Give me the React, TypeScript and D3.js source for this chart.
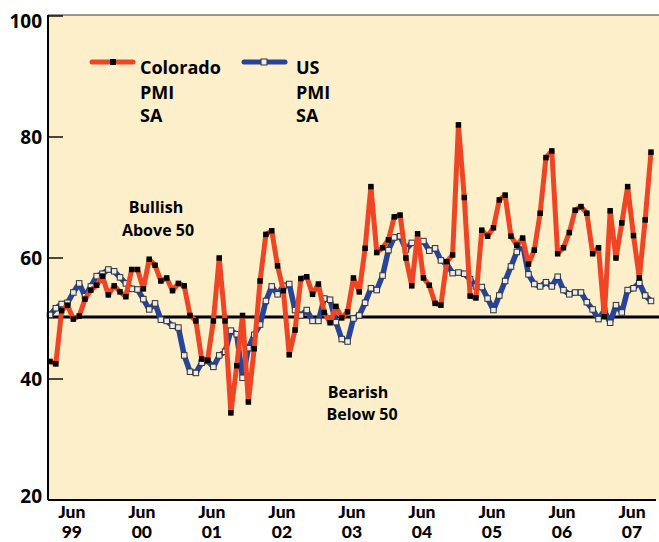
import React from "react";
import * as d3 from "d3";

// Monthly index 0 = Feb 1999 ... 103 = Sep 2007
const coloradoPMI = [
  42.9, 42.5, 51.3, 52.2, 49.9, 50.4, 53.2, 54.7, 55.5, 57.0,
  53.9, 55.4, 54.4, 53.6, 58.1, 58.1, 54.9, 59.8, 58.8, 56.2,
  56.7, 54.6, 55.8, 55.4, 50.5, 49.6, 43.3, 43.1, 49.6, 60.0,
  49.6, 34.4, 42.2, 50.5, 36.2, 45.0, 56.2, 63.9, 64.5, 58.7,
  54.6, 44.0, 48.1, 56.6, 56.9, 54.0, 55.7, 51.0, 49.3, 52.0,
  50.1, 51.1, 56.7, 54.4, 61.6, 71.8, 60.9, 61.7, 63.0, 66.8,
  67.1, 60.0, 55.4, 64.0, 56.7, 55.5, 52.5, 52.2, 59.4, 60.5,
  82.0, 70.0, 53.7, 53.4, 64.6, 63.6, 65.0, 69.6, 70.4, 63.6,
  62.1, 63.3, 59.0, 61.3, 67.4, 76.6, 77.7, 60.7, 61.7, 64.2,
  67.9, 68.5, 67.4, 60.7, 61.7, 50.3, 67.8, 60.0, 65.8, 71.8,
  63.7, 56.7, 66.3, 77.5,
];

const usPMI = [
  50.6, 51.7, 52.4, 52.6, 54.3, 55.8, 53.7, 55.3, 57.0, 57.4,
  58.1, 57.8, 56.8, 55.8, 54.9, 54.8, 53.2, 51.5, 52.5, 49.8,
  49.6, 48.8, 48.5, 43.9, 41.2, 41.0, 42.7, 43.0, 42.0, 43.9,
  44.5, 48.0, 47.4, 40.2, 45.1, 47.3, 49.0, 52.9, 55.3, 54.0,
  55.4, 55.7, 51.4, 50.5, 51.4, 49.6, 49.6, 53.3, 53.1, 49.4,
  46.6, 46.2, 50.0, 50.5, 52.6, 55.0, 54.7, 57.1, 61.3, 63.4,
  63.6, 61.4, 62.5, 62.4, 62.8, 61.2, 61.6, 59.6, 59.0, 57.5,
  57.6, 57.4, 56.5, 55.3, 55.2, 53.3, 51.4, 53.8, 56.2, 58.6,
  61.0, 62.3, 57.3, 55.7, 55.3, 56.0, 55.3, 56.9, 54.7, 54.0,
  54.3, 54.3, 52.7, 51.5, 49.9, 51.3, 49.3, 52.2, 51.0, 54.7,
  55.0, 55.9, 53.8, 52.9,
];

const xTickMonths = [4, 16, 28, 40, 52, 64, 76, 88, 100]; // June of each year
const xTickYears = ["99", "00", "01", "02", "03", "04", "05", "06", "07"];
const yTicks = [20, 40, 60, 80, 100];
const referenceLevel = 50;

const W = 659;
const H = 542;
const FONT = "'Open Sans', 'DejaVu Sans', sans-serif";
const XFONT = "Lato, 'Open Sans', sans-serif";

export default function App() {
  const left = 48;
  const right = 659;
  const top = 16;
  const bottom = 500;

  const x = d3.scaleLinear().domain([0, 103]).range([50, 651]);
  const y = d3.scaleLinear().domain([20, 100]).range([bottom, top]);

  const line = d3
    .line<number>()
    .x((_, i) => x(i))
    .y((d) => y(d));

  const red = "#ee4524";
  const blue = "#25449a";
  const ms = 5.5;

  return (
    <svg
      width={W}
      height={H}
      style={{ position: "absolute", left: 0, top: 0, background: "#fff" }}
      fontFamily={FONT}
    >
      <rect x={left} y={15} width={right - left} height={bottom - 15} fill="#fcefc9" />
      <line x1={left} x2={right} y1={15} y2={15} stroke="#777" strokeWidth={1.6} />

      {/* reference line at 50 */}
      <line
        x1={left}
        x2={right}
        y1={y(referenceLevel) - 1.5}
        y2={y(referenceLevel) - 1.5}
        stroke="#000"
        strokeWidth={2.8}
      />

      {/* US series */}
      <path d={line(usPMI) ?? ""} fill="none" stroke={blue} strokeWidth={5.5} strokeLinejoin="round" />
      {usPMI.map((d, i) => (
        <rect
          key={"u" + i}
          x={x(i) - ms / 2}
          y={y(d) - ms / 2}
          width={ms}
          height={ms}
          fill="#ececec"
          stroke="#333"
          strokeWidth={1}
        />
      ))}

      {/* Colorado series */}
      <path d={line(coloradoPMI) ?? ""} fill="none" stroke={red} strokeWidth={5} strokeLinejoin="round" />
      {coloradoPMI.map((d, i) => (
        <rect key={"c" + i} x={x(i) - ms / 2} y={y(d) - ms / 2} width={ms} height={ms} fill="#000" />
      ))}

      {/* axes */}
      <line x1={left} x2={left} y1={15} y2={bottom} stroke="#000" strokeWidth={2} />
      <line x1={left} x2={656} y1={bottom} y2={bottom} stroke="#000" strokeWidth={2} />
      {yTicks.slice(1).map((t) => (
        <line key={"t" + t} x1={left} x2={63} y1={y(t)} y2={y(t)} stroke="#000" strokeWidth={1.4} />
      ))}
      {yTicks.map((t) => (
        <text
          key={"yl" + t}
          x={42}
          y={t === 100 ? y(t) + 12 : t === 20 ? y(t) + 3 : y(t) + 6.5}
          textAnchor="end"
          fontSize={19}
          fontWeight={700}
          fill="#000"
        >
          {t}
        </text>
      ))}
      {xTickMonths.map((m, i) => (
        <g key={"xl" + m} fontFamily={XFONT} fontSize={17.5} fontWeight={900} textAnchor="middle">
          <text x={x(m) - 1.5} y={517.5}>Jun</text>
          <text x={x(m) - 1.5} y={538.3}>{xTickYears[i]}</text>
        </g>
      ))}

      {/* legend */}
      <line x1={92} x2={133} y1={62} y2={62} stroke={red} strokeWidth={5} strokeLinecap="round" />
      <rect x={113 - 3} y={62 - 3} width={6} height={6} fill="#000" />
      <g fontSize={18} fontWeight={700}>
        <text x={140} y={74}>Colorado</text>
        <text x={140} y={98.5}>PMI</text>
        <text x={140} y={122}>SA</text>
      </g>
      <line x1={244} x2={285} y1={62} y2={62} stroke={blue} strokeWidth={5} strokeLinecap="round" />
      <rect x={264 - 3} y={62 - 3} width={6} height={6} fill="#ececec" stroke="#333" strokeWidth={1} />
      <g fontSize={18} fontWeight={700}>
        <text x={296} y={74}>US</text>
        <text x={296} y={98.5}>PMI</text>
        <text x={296} y={122}>SA</text>
      </g>

      {/* annotations */}
      <g fontSize={16} fontWeight={700} textAnchor="middle">
        <text x={156} y={213}>Bullish</text>
        <text x={158} y={236}>Above 50</text>
        <text x={358} y={398}>Bearish</text>
        <text x={362} y={420}>Below 50</text>
      </g>
    </svg>
  );
}
